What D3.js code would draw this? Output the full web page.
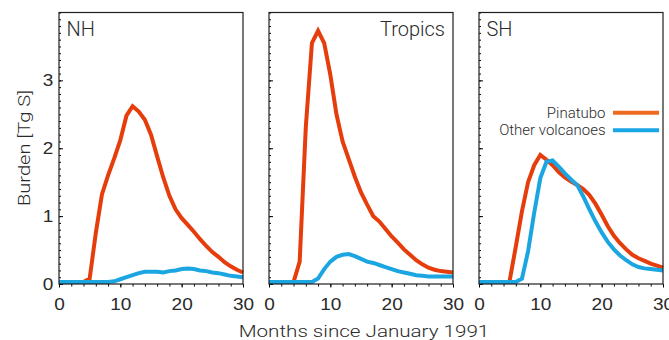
<!DOCTYPE html>
<html lang="en">
<head>
<meta charset="UTF-8">
<title>Sulfur burden after Pinatubo</title>
<script src="https://cdn.jsdelivr.net/npm/d3@7"></script>
<style>
  body { margin: 0; background: #fff; }
  svg { display: block; font-family: Roboto, "Liberation Sans", Arial, sans-serif; font-weight: 300; }
  text { fill: #2a2a2a; }
</style>
</head>
<body>
<div id="chart"></div>
<script>

// months since January 1991
var months = [0,1,2,3,4,5,6,7,8,9,10,11,12,13,14,15,16,17,18,19,20,21,22,23,24,25,26,27,28,29,30];

// burden [Tg S]
var nhPinatubo = [0.03,0.03,0.03,0.03,0.03,0.08,0.75,1.32,1.6,1.85,2.12,2.48,2.62,2.54,2.42,2.2,1.88,1.57,1.3,1.1,0.97,0.87,0.77,0.66,0.56,0.47,0.4,0.32,0.26,0.21,0.17];
var nhOther    = [0.03,0.03,0.03,0.03,0.03,0.03,0.03,0.03,0.03,0.04,0.07,0.1,0.13,0.16,0.18,0.18,0.18,0.17,0.19,0.2,0.22,0.23,0.22,0.2,0.19,0.17,0.16,0.14,0.12,0.11,0.1];
var trPinatubo = [0.03,0.03,0.03,0.03,0.03,0.33,2.31,3.55,3.73,3.55,3.08,2.5,2.1,1.84,1.58,1.35,1.17,1.0,0.92,0.81,0.7,0.61,0.51,0.43,0.35,0.29,0.24,0.21,0.19,0.18,0.17];
var trOther    = [0.03,0.03,0.03,0.03,0.03,0.03,0.03,0.03,0.08,0.22,0.33,0.4,0.43,0.44,0.41,0.37,0.33,0.31,0.28,0.25,0.22,0.19,0.17,0.15,0.13,0.12,0.11,0.11,0.11,0.11,0.11];
var shPinatubo = [0.03,0.03,0.03,0.03,0.03,0.05,0.55,1.07,1.5,1.75,1.9,1.83,1.75,1.65,1.57,1.51,1.46,1.4,1.31,1.18,1.02,0.85,0.71,0.6,0.51,0.43,0.38,0.34,0.3,0.27,0.24];
var shOther    = [0.03,0.03,0.03,0.03,0.03,0.03,0.03,0.08,0.48,1.05,1.56,1.8,1.82,1.73,1.63,1.54,1.46,1.29,1.1,0.92,0.76,0.62,0.51,0.42,0.35,0.29,0.25,0.23,0.22,0.21,0.2];

var panelNames = ["NH", "Tropics", "SH"];
var xTickLabels = [0, 10, 20, 30];
var yTickLabels = [0, 1, 2, 3];
var seriesNames = ["Pinatubo", "Other volcanoes"];

var red = "#e63d0c", blue = "#1ba6e2";
var legendRed = "#ee6a1e", legendBlue = "#19a7e6";

// size variables
var w = 669, h = 340;
var panelLeft = [59, 269, 479];
var panelW = 184;
var plotTop = 12.5, plotBottom = 284;

var svg = d3.select("#chart").append("svg")
  .attr("width", w)
  .attr("height", h);

var data = [
  { name: panelNames[0], pin: nhPinatubo, other: nhOther },
  { name: panelNames[1], pin: trPinatubo, other: trOther },
  { name: panelNames[2], pin: shPinatubo, other: shOther }
];

var x = d3.scaleLinear().domain([0, 30]).range([0, panelW]);
var y = d3.scaleLinear().domain([0, 4]).range([plotBottom, plotTop]);

var line = d3.line()
  .x(function(d, i) { return x(months[i]); })
  .y(function(d) { return y(d); });

data.forEach(function(p, pi) {
  var g = svg.append("g").attr("transform", "translate(" + panelLeft[pi] + ",0)");

  // minor ticks first, then the labelled ones
  g.append("g")
    .call(d3.axisLeft(y).tickValues(y.ticks(40)).tickSize(-2).tickFormat(""))
    .call(function(a) { a.select(".domain").remove(); });
  g.append("g")
    .call(d3.axisLeft(y).tickValues(yTickLabels).tickSize(-4).tickPadding(5)
      .tickFormat(pi === 0 ? d3.format("d") : ""))
    .call(function(a) {
      a.select(".domain").remove();
      a.selectAll("text")
        .style("font-size", "17px")
        .style("font-family", null)
        .attr("fill", "#2a2a2a")
        .attr("transform", "scale(1.12,1)");
    });

  g.append("g")
    .attr("transform", "translate(0," + plotBottom + ")")
    .call(d3.axisBottom(x).tickValues(x.ticks(15)).tickSize(2.5).tickFormat(""))
    .call(function(a) { a.select(".domain").remove(); });
  g.append("g")
    .attr("transform", "translate(0," + plotBottom + ")")
    .call(d3.axisBottom(x).tickValues(xTickLabels).tickSize(3.5).tickPadding(10)
      .tickFormat(d3.format("d")))
    .call(function(a) {
      a.select(".domain").remove();
      a.selectAll("text")
        .style("font-size", "17px")
        .attr("fill", "#2a2a2a")
        .attr("transform", "scale(1.12,1)");
    });

  g.append("path")
    .datum(p.pin)
    .attr("d", line)
    .attr("fill", "none")
    .attr("stroke", red)
    .attr("stroke-width", 4);

  g.append("path")
    .datum(p.other)
    .attr("d", line)
    .attr("fill", "none")
    .attr("stroke", blue)
    .attr("stroke-width", 4);

  // frame
  g.append("rect")
    .attr("x", 0)
    .attr("y", plotTop)
    .attr("width", panelW)
    .attr("height", plotBottom - plotTop)
    .attr("fill", "none")
    .attr("stroke", "#1e1e1e")
    .attr("stroke-width", 1.2);

  var right = pi === 1;
  g.append("text")
    .attr("x", right ? panelW - 8 : 7.5)
    .attr("y", 36)
    .attr("text-anchor", right ? "end" : "start")
    .style("font-size", "20px")
    .text(p.name);
});

// legend in the SH panel
var legend = svg.append("g").attr("transform", "translate(605.5,118.3)");
[legendRed, legendBlue].forEach(function(c, i) {
  legend.append("text")
    .attr("x", 0)
    .attr("y", i * 17)
    .attr("text-anchor", "end")
    .style("font-size", "15px")
    .text(seriesNames[i]);
  legend.append("line")
    .attr("x1", 7.5)
    .attr("x2", 53.5)
    .attr("y1", i * 17.5 - 5.5)
    .attr("y2", i * 17.5 - 5.5)
    .attr("stroke", c)
    .attr("stroke-width", 4);
});

// axis titles
svg.append("text")
  .attr("transform", "translate(364,336.5) scale(1.25,1)")
  .attr("text-anchor", "middle")
  .style("font-size", "16.5px")
  .text("Months since January 1991");

svg.append("text")
  .attr("transform", "translate(30,148) rotate(-90) scale(1.22,1)")
  .attr("text-anchor", "middle")
  .style("font-size", "16.5px")
  .text("Burden [Tg S]");

</script>
</body>
</html>
